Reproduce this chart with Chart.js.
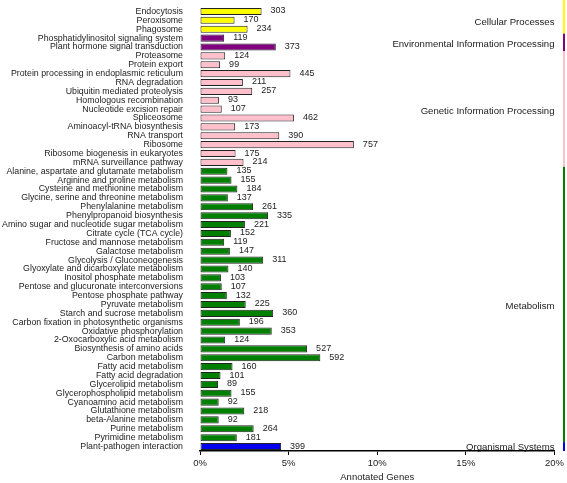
<!DOCTYPE html>
<html>
<head>
<meta charset="utf-8">
<script src="https://cdn.jsdelivr.net/npm/chart.js@4/dist/chart.umd.min.js"></script>
<style>
  html, body { margin: 0; padding: 0; background: #fff; }
  #wrap { width: 567px; height: 483px; }
</style>
</head>
<body>
<div id="wrap"><canvas id="chartCanvas" width="567" height="483"></canvas></div>
<script>
// KEGG pathway names, top to bottom
const pathways = [
    "Endocytosis", "Peroxisome", "Phagosome",
    "Phosphatidylinositol signaling system", "Plant hormone signal transduction",
    "Proteasome", "Protein export", "Protein processing in endoplasmic reticulum",
    "RNA degradation", "Ubiquitin mediated proteolysis", "Homologous recombination",
    "Nucleotide excision repair", "Spliceosome", "Aminoacyl-tRNA biosynthesis",
    "RNA transport", "Ribosome", "Ribosome biogenesis in eukaryotes",
    "mRNA surveillance pathway",
    "Alanine, aspartate and glutamate metabolism", "Arginine and proline metabolism",
    "Cysteine and methionine metabolism", "Glycine, serine and threonine metabolism",
    "Phenylalanine metabolism", "Phenylpropanoid biosynthesis",
    "Amino sugar and nucleotide sugar metabolism", "Citrate cycle (TCA cycle)",
    "Fructose and mannose metabolism", "Galactose metabolism",
    "Glycolysis / Gluconeogenesis", "Glyoxylate and dicarboxylate metabolism",
    "Inositol phosphate metabolism", "Pentose and glucuronate interconversions",
    "Pentose phosphate pathway", "Pyruvate metabolism", "Starch and sucrose metabolism",
    "Carbon fixation in photosynthetic organisms", "Oxidative phosphorylation",
    "2-Oxocarboxylic acid metabolism", "Biosynthesis of amino acids", "Carbon metabolism",
    "Fatty acid metabolism", "Fatty acid degradation", "Glycerolipid metabolism",
    "Glycerophospholipid metabolism", "Cyanoamino acid metabolism",
    "Glutathione metabolism", "beta-Alanine metabolism", "Purine metabolism",
    "Pyrimidine metabolism", "Plant-pathogen interaction"
];

// gene counts per pathway
const geneCounts = [
    303, 170, 234,
    119, 373,
    124, 99, 445, 211, 257, 93, 107, 462, 173, 390, 757, 175, 214,
    135, 155, 184, 137, 261, 335, 221, 152, 119, 147, 311, 140, 103, 107, 132,
    225, 360, 196, 353, 124, 527, 592, 160, 101, 89, 155, 92, 218, 92, 264, 181,
    399
];

// total annotated genes (percent base)
const annotatedTotal = 8720;

// top-level groups: name, first index, last index
const groupNames = ["Cellular Processes", "Environmental Information Processing",
    "Genetic Information Processing", "Metabolism", "Organismal Systems"];
const groupStart = [0, 3, 5, 18, 49];
const groupEnd = [2, 4, 17, 48, 49];
const groupColors = ["#ffff00", "#800080", "#ffc0cb", "#007f00", "#0000ee"];

const xTicks = [0, 5, 10, 15, 20];

function groupOf(i) {
    for (let g = 0; g < groupStart.length; g++) {
        if (i >= groupStart[g] && i <= groupEnd[g]) return g;
    }
    return 0;
}

const percents = geneCounts.map(c => c / annotatedTotal * 100);
const barColors = pathways.map((p, i) => groupColors[groupOf(i)]);

const FONT = "'Liberation Sans', Arial, sans-serif";

// count labels next to bars + group labels and side strip
const extrasPlugin = {
    id: "extras",
    afterDatasetsDraw(chart) {
        const ctx = chart.ctx;
        const x = chart.scales.x;
        const y = chart.scales.y;
        const area = chart.chartArea;
        ctx.save();
        ctx.font = "9px " + FONT;
        ctx.fillStyle = "#222";
        ctx.textBaseline = "middle";
        ctx.textAlign = "left";
        percents.forEach((v, i) => {
            ctx.fillText(String(geneCounts[i]), x.getPixelForValue(v) + 9, y.getPixelForValue(i) - 0.5);
        });

        const pitch = y.getPixelForValue(1) - y.getPixelForValue(0);
        ctx.textAlign = "right";
        ctx.font = "9.6px " + FONT;
        groupNames.forEach((name, g) => {
            const top = g === 0 ? 0 : y.getPixelForValue(groupStart[g]) - pitch / 2;
            const bottom = y.getPixelForValue(groupEnd[g]) + pitch / 2;
            const mid = (y.getPixelForValue(groupStart[g]) + y.getPixelForValue(groupEnd[g])) / 2;
            ctx.fillStyle = "#222";
            ctx.fillText(name, area.right, mid + (g === 4 ? 1 : 2));
            ctx.fillStyle = groupColors[g];
            ctx.fillRect(563, top, 2, bottom - top);
        });
        ctx.restore();
    }
};

const ctx = document.getElementById("chartCanvas").getContext("2d");
new Chart(ctx, {
    type: "bar",
    data: {
        labels: pathways,
        datasets: [{
            data: percents,
            backgroundColor: barColors,
            borderColor: "#222",
            borderWidth: 1,
            borderSkipped: false,
            barPercentage: 0.8,
            categoryPercentage: 1.0
        }]
    },
    options: {
        indexAxis: "y",
        responsive: false,
        animation: false,
        layout: { padding: { top: 7, right: 11, bottom: 0, left: 0 } },
        plugins: {
            legend: { display: false },
            tooltip: { enabled: false }
        },
        scales: {
            x: {
                min: 0,
                max: 20,
                afterBuildTicks: scale => { scale.ticks = xTicks.map(v => ({ value: v })); },
                afterFit: scale => { scale.height = 32; },
                ticks: {
                    callback: v => v + "%",
                    font: { family: FONT, size: 9.5 },
                    color: "#222",
                    padding: 3,
                    maxRotation: 0
                },
                grid: { display: true, drawOnChartArea: false, tickLength: 4, color: "#000", tickWidth: 1 },
                border: { display: true, color: "#000", width: 1.5 },
                title: {
                    display: true,
                    text: "Annotated Genes",
                    font: { family: FONT, size: 9.5 },
                    color: "#222",
                    padding: { top: 2, bottom: 0 }
                }
            },
            y: {
                afterFit: scale => { scale.width = 200; },
                ticks: {
                    autoSkip: false,
                    font: { family: FONT, size: 8.8 },
                    color: "#222",
                    padding: 0
                },
                // invisible tick marks give the gap between labels and bars
                grid: { display: true, drawOnChartArea: false, drawTicks: true, tickLength: 17, color: "rgba(0,0,0,0)" },
                border: { display: false }
            }
        }
    },
    plugins: [extrasPlugin]
});
</script>
</body>
</html>
